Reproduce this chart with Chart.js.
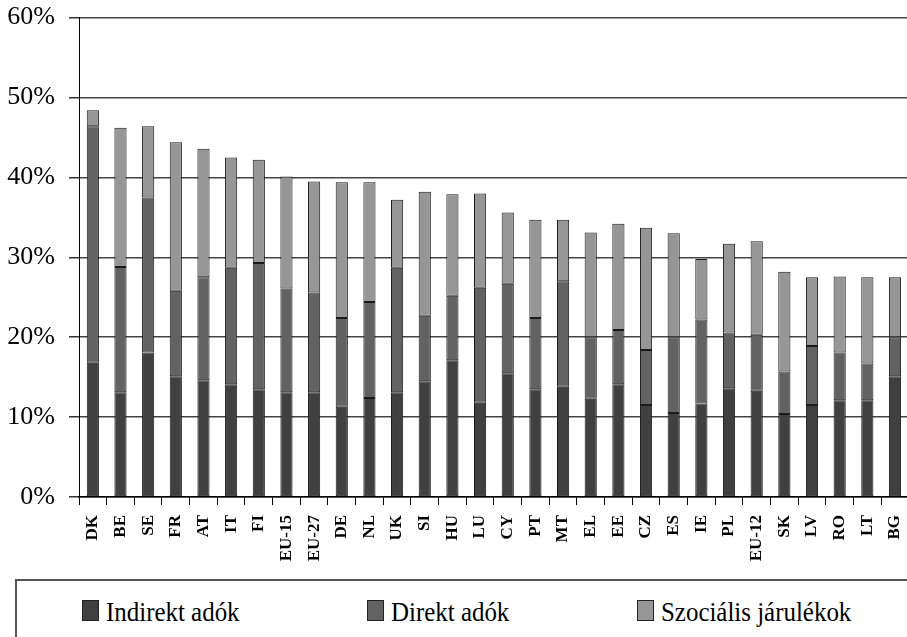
<!DOCTYPE html>
<html>
<head>
<meta charset="utf-8">
<script src="https://cdn.jsdelivr.net/npm/chart.js@4/dist/chart.umd.min.js"></script>
<style>
  html, body { margin: 0; padding: 0; background: #fff; overflow: hidden; }
  #wrap { position: relative; width: 907px; height: 637px; overflow: hidden; }
  /* shifted up a bit so the 60% line sits near the top edge */
  #chart { position: absolute; left: 0; top: -12px; }
  #legend {
    position: absolute; left: 15px; top: 579px; width: 900px; height: 80px;
    border-top: 2px solid #555; border-left: 2px solid #555;
    font-family: "Liberation Serif", "Times New Roman", serif;
    font-size: 28px; color: #000;
  }
  #legend .item { position: absolute; top: 17px; height: 28px; line-height: 28px; white-space: nowrap; }
  #legend .box { position: absolute; left: 0; top: 2px; width: 15px; height: 19px; border: 1px solid #222; }
  #legend .txt { position: absolute; left: 24px; top: 0; transform: scaleX(0.89); transform-origin: left center; }
</style>
</head>
<body>
<div id="wrap">
  <canvas id="chart" width="922" height="591"></canvas>
  <div id="legend"></div>
</div>
<script>
// country codes along the x axis
const countries = ["DK", "BE", "SE", "FR", "AT", "IT", "FI", "EU-15", "EU-27", "DE",
  "NL", "UK", "SI", "HU", "LU", "CY", "PT", "MT", "EL", "EE",
  "CZ", "ES", "IE", "PL", "EU-12", "SK", "LV", "RO", "LT", "BG"];

// share of GDP, percent
const indirekt = [16.8, 13.1, 18.1, 15.1, 14.6, 14.1, 13.5, 13.1, 13.1, 11.3,
  12.4, 13.1, 14.5, 17.1, 11.8, 15.5, 13.5, 13.8, 12.3, 14.1,
  11.5, 10.5, 11.7, 13.6, 13.3, 10.4, 11.5, 12.1, 12.1, 15.1];
const direkt = [29.6, 15.7, 19.4, 10.7, 12.9, 14.6, 15.8, 13.0, 12.5, 11.1,
  12.0, 15.6, 8.2, 8.1, 14.4, 11.2, 8.9, 13.2, 7.7, 6.8,
  6.9, 9.5, 10.5, 7.0, 7.0, 5.3, 7.4, 6.0, 4.6, 4.9];
const szocialis = [2.0, 17.4, 8.9, 18.6, 16.1, 13.8, 12.9, 14.0, 13.9, 17.0,
  15.0, 8.5, 15.5, 12.7, 11.8, 8.9, 12.3, 7.7, 13.1, 13.3,
  15.3, 13.0, 7.6, 11.1, 11.7, 12.5, 8.6, 9.5, 10.8, 7.5];

const seriesNames = ["Indirekt adók", "Direkt adók", "Szociális járulékok"];
const yTicks = [0, 10, 20, 30, 40, 50, 60];

const colors = ['#404040', '#626262', '#969696'];
const serif = "'Liberation Serif', 'Times New Roman', serif";

function makeSet(i, values) {
  return {
    label: seriesNames[i],
    data: values,
    backgroundColor: colors[i],
    borderColor: '#1a1a1a',
    borderWidth: 1,
    borderSkipped: false,
    barPercentage: 0.44,
    categoryPercentage: 1.0
  };
}

const config = {
  type: 'bar',
  data: {
    labels: countries,
    datasets: [makeSet(0, indirekt), makeSet(1, direkt), makeSet(2, szocialis)]
  },
  options: {
    responsive: false,
    animation: false,
    layout: { padding: 0 },
    plugins: {
      legend: { display: false },
      tooltip: { enabled: false }
    },
    scales: {
      x: {
        stacked: true,
        grid: { drawOnChartArea: false, color: '#000', tickLength: 8, lineWidth: 1 },
        border: { color: '#000', width: 1.5 },
        ticks: {
          minRotation: 90, maxRotation: 90, autoSkip: false, padding: 10,
          color: '#000',
          font: { family: serif, size: 17, weight: 'bold', lineHeight: 1 }
        },
        afterFit: function(scale) { scale.height = 82; }
      },
      y: {
        stacked: true,
        min: 0, max: 60,
        afterBuildTicks: function(scale) { scale.ticks = yTicks.map(v => ({ value: v })); },
        grid: { color: '#444', lineWidth: 1.5, tickLength: 10, tickColor: '#333' },
        border: { color: '#000', width: 1 },
        ticks: {
          padding: 14, color: '#000',
          font: { family: serif, size: 26, lineHeight: 1.2 },
          callback: v => v + '%'
        },
        afterFit: function(scale) { scale.width = 79; }
      }
    }
  }
};

const taxChart = new Chart(document.getElementById('chart'), config);

// legend below the chart, boxed like in the original
const legendX = [65, 350, 620];
const legendEl = document.getElementById('legend');
taxChart.data.datasets.forEach((ds, i) => {
  const item = document.createElement('div');
  item.className = 'item';
  item.style.left = legendX[i] + 'px';
  item.innerHTML = '<span class="box" style="background:' + ds.backgroundColor + '"></span>' +
    '<span class="txt">' + ds.label + '</span>';
  legendEl.appendChild(item);
});
</script>
</body>
</html>
